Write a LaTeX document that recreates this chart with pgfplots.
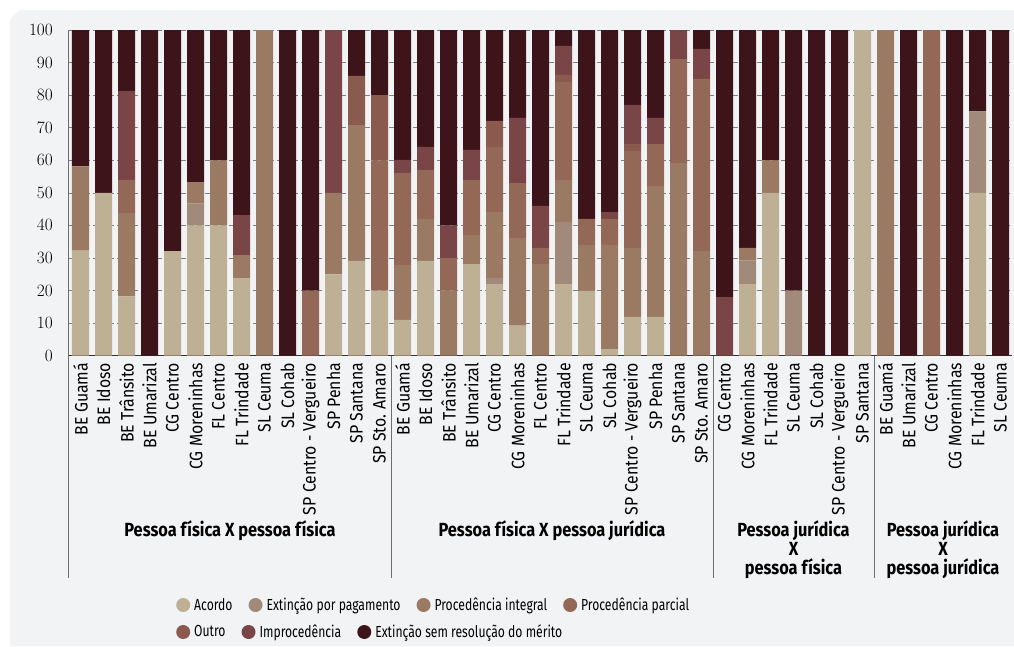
\documentclass[border=0pt]{standalone}
\usepackage{fontspec}
\setmainfont{Fira Sans}[FakeStretch=0.88]
\newfontfamily\titlefont{Fira Sans}[FakeStretch=0.86]
\newfontfamily\legfont{Fira Sans}[FakeStretch=0.76]
\usepackage{pgfplots}
\pgfplotsset{compat=1.18}
\usepackage{pgfplotstable}
\definecolor{cAc}{HTML}{BEB095}
\definecolor{cEp}{HTML}{A28A7A}
\definecolor{cPi}{HTML}{9B7A64}
\definecolor{cPp}{HTML}{936856}
\definecolor{cOu}{HTML}{8A5A4F}
\definecolor{cIm}{HTML}{7A4547}
\definecolor{cEs}{HTML}{3D1419}
\definecolor{panel}{HTML}{F2F3F5}
\definecolor{sepgray}{HTML}{6E6E6E}

\pgfplotstableread{
x ac ep pi pp ou im es
0 32.3 0 25.8 0 0 0 41.9
1 50 0 0 0 0 0 50
2 18.2 0 25.6 10.2 0 27.3 18.7
3 0 0 0 0 0 0 100
4 32.1 0 0 0 0 0 67.9
5 40 6.7 6.6 0 0 0 46.7
6 40 0 20 0 0 0 40
7 23.8 0 7.1 0 0 12.3 56.8
8 0 0 100 0 0 0 0
9 0 0 0 0 0 0 100
10 0 0 0 20 0 0 80
11 25 0 25 0 0 50 0
12 29.1 0 41.7 0 15.1 0 14.1
13 20 0 0 40 20 0 20
14 11 0 16.8 28.3 0 4 39.9
15 29.1 0 12.9 15 0 7.1 35.9
16 0 0 20 10 0 10 60
17 28.1 0 8.9 16.9 0 9.3 36.8
18 22 1.8 20.3 20 8 0 27.9
19 9.2 0 26.9 16.9 0 20 27
20 0 0 28.1 5 0 12.9 54
21 22 19 12.9 30.1 2.2 8.9 4.9
22 19.9 0 14.1 8 0 0 58
23 2 0 32 8 0 2.1 55.9
24 11.9 0 21.2 29.7 2.2 12 23
25 11.9 0 40.2 12.9 0 8 27
26 0 0 59.2 31.9 0 8.9 0
27 0 0 32.1 52.9 0 9.2 5.8
28 0 0 0 0 0 18 82
29 22 7.2 3.9 0 0 0 66.9
30 50 0 10 0 0 0 40
31 0 20 0 0 0 0 80
32 0 0 0 0 0 0 100
33 0 0 0 0 0 0 100
34 100 0 0 0 0 0 0
35 0 0 100 0 0 0 0
36 0 0 0 0 0 0 100
37 0 0 0 100 0 0 0
38 0 0 0 0 0 0 100
39 50 25 0 0 0 0 25
40 0 0 0 0 0 0 100
}\data

\pgfplotsset{
  dotlegend/.style={legend image code/.code={\fill[##1] (7pt,0pt) circle (7pt);}},
  baseaxis/.style={
    scale only axis, width=943pt, height=325.7pt,
    at={(69pt,-355.7pt)}, anchor=south west,
    xmin=-0.5, xmax=40.5, ymin=0, ymax=100,
  },
  rowlegend/.style={
    legend columns=-1,
    legend style={draw=none, fill=none, inner sep=0pt, anchor=west,
      font=\legfont\fontsize{16}{18}\selectfont,
      nodes={inner sep=0pt},
      /tikz/every odd column/.append style={column sep=4pt},
      /tikz/every even column/.append style={column sep=16pt}},
  },
}

\begin{document}
\begin{tikzpicture}
\fill[white] (0,0) rectangle (1014pt,-646pt);
\fill[panel] (10pt,-646pt) [rounded corners=14pt] -- (10pt,-10pt) [sharp corners] -- (1014pt,-10pt) -- (1014pt,-646pt) -- cycle;
\path[use as bounding box] (0,0) rectangle (1014pt,-646pt);

\begin{axis}[baseaxis,
  ybar stacked, bar width=17pt,
  axis x line*=bottom, axis y line*=left,
  axis line style={-},
  x axis line style={draw=black!80, line width=1.4pt},
  y axis line style={draw=sepgray, line width=1pt},
  ytick={0,10,...,100},
  ymajorgrids,
  grid style={dashed, dash pattern=on 5pt off 3pt, draw=black!50, line width=0.7pt},
  ytick style={draw=none},
  yticklabel style={font=\fontsize{16.5}{18}\selectfont, inner sep=0pt, anchor=east},
  yticklabel shift=16pt,
  xtick={0,...,40},
  xticklabels={BE Guamá,BE Idoso,BE Trânsito,BE Umarizal,CG Centro,CG Moreninhas,FL Centro,FL Trindade,SL Ceuma,SL Cohab,SP Centro - Vergueiro,SP Penha,SP Santana,SP Sto. Amaro,
    BE Guamá,BE Idoso,BE Trânsito,BE Umarizal,CG Centro,CG Moreninhas,FL Centro,FL Trindade,SL Ceuma,SL Cohab,SP Centro - Vergueiro,SP Penha,SP Santana,SP Sto. Amaro,
    CG Centro,CG Moreninhas,FL Trindade,SL Ceuma,SL Cohab,SP Centro - Vergueiro,SP Santana,
    BE Guamá,BE Umarizal,CG Centro,CG Moreninhas,FL Trindade,SL Ceuma},
  xtick style={draw=none},
  xticklabel style={rotate=90, anchor=east, inner sep=0pt, font=\fontsize{18}{20}\selectfont},
  xticklabel shift=7pt,
  extra x ticks={-0.5,13.5,27.5,34.5},
  extra x tick labels={{},{},{},{}},
  extra x tick style={xtick style={draw=sepgray, line width=1pt}, major tick length=222pt, tick align=outside},
  rowlegend,
  legend style={at={(0.1135,-0.7654)}},
  clip=false,
]
\addplot+[fill=cAc, draw=none, dotlegend] table[x=x,y=ac]{\data};
\addplot+[fill=cEp, draw=none, dotlegend] table[x=x,y=ep]{\data};
\addplot+[fill=cPi, draw=none, dotlegend] table[x=x,y=pi]{\data};
\addplot+[fill=cPp, draw=none, dotlegend] table[x=x,y=pp]{\data};
\addplot+[fill=cOu, draw=none, forget plot] table[x=x,y=ou]{\data};
\addplot+[fill=cIm, draw=none, forget plot] table[x=x,y=im]{\data};
\addplot+[fill=cEs, draw=none, forget plot] table[x=x,y=es]{\data};
\legend{Acordo, Extinção por pagamento, Procedência integral, Procedência parcial}

\path[font=\titlefont\bfseries\fontsize{19}{19}\selectfont, align=center, inner sep=0pt, anchor=north]
  (axis cs:6.5,0) node[yshift=-165pt] {Pessoa física X pessoa física}
  (axis cs:20.5,0) node[yshift=-165pt] {Pessoa física X pessoa jurídica}
  (axis cs:31,0) node[yshift=-165pt] {Pessoa jurídica\\X\\pessoa física}
  (axis cs:37.5,0) node[yshift=-165pt] {Pessoa jurídica\\X\\pessoa jurídica};
\end{axis}

\begin{axis}[baseaxis, hide axis, rowlegend,
  legend style={at={(0.1135,-0.8483)}}]
\addlegendimage{dotlegend, fill=cOu, draw=none}
\addlegendimage{dotlegend, fill=cIm, draw=none}
\addlegendimage{dotlegend, fill=cEs, draw=none}
\legend{Outro, Improcedência, Extinção sem resolução do mérito}
\end{axis}
\end{tikzpicture}
\end{document}
